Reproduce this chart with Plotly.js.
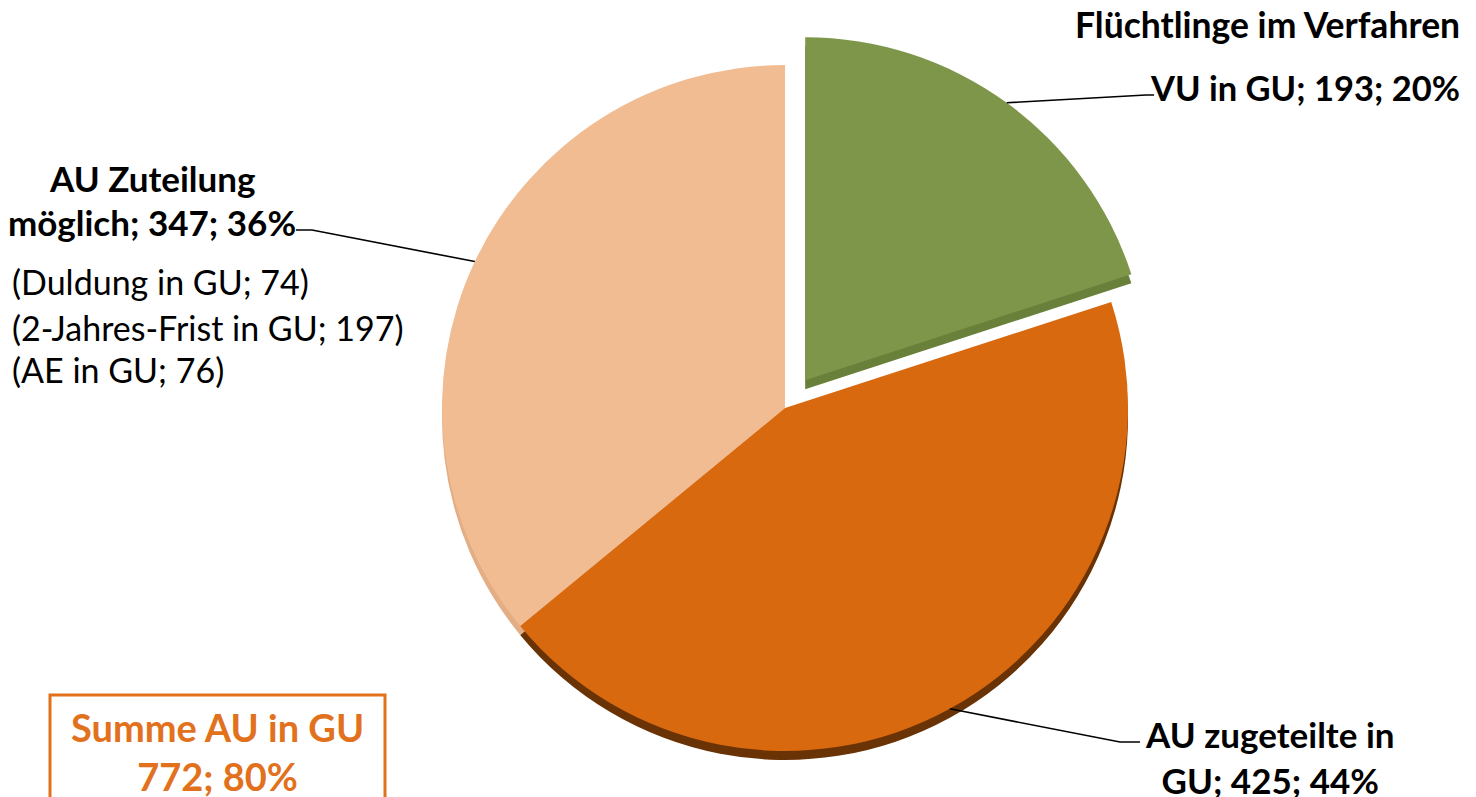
<!DOCTYPE html>
<html><head><meta charset="utf-8">
<script src="https://cdn.plot.ly/plotly-3.0.1.min.js"></script>
<style>html,body{margin:0;padding:0;background:#fff}#chart{width:1476px;height:797px}</style>
</head><body><div id="chart"></div>
<script>
// ---- data ----
const labels = ["Flüchtlinge im Verfahren VU in GU", "AU zugeteilte in GU", "AU Zuteilung möglich"];
const values = [193, 425, 347];
const subLabels = ["Duldung in GU", "2-Jahres-Frist in GU", "AE in GU"];
const subValues = [74, 197, 76];
const sumLabel = "Summe AU in GU";
const colors = ["#7E9649", "#D9690F", "#F1BC92"];
const shadowColors = ["#69803A", "#6A3306", "#E3AE86"];
const pulls = [0.1, 0, 0];

// ---- geometry ----
const W = 1476, H = 797;
const cx = 785, cy = 408, r = 343, depth = 9;
const maxPull = Math.max(...pulls);
const half = r * (1 + maxPull);
const px = x => x / W, py = y => 1 - y / H;
const total = values.reduce((a, b) => a + b, 0);
const pct = v => Math.round(v / total * 100) + "%";
const sumAU = values[1] + values[2];

let cum = 0;
const mids = values.map(v => { const m = (cum + v / 2) / total * 360; cum += v; return m; });
function edgePoint(i) {
  const a = mids[i] * Math.PI / 180;
  const R = r * (1 + pulls[i]);
  return [cx + R * Math.sin(a), cy - R * Math.cos(a)];
}

const FONT = "Lato, 'Open Sans', sans-serif";
const base = {type: 'pie', values: values, labels: labels, sort: false, direction: 'clockwise',
  rotation: 0, pull: pulls, textinfo: 'none', showlegend: false, hoverinfo: 'label+value+percent'};

const shadowTrace = Object.assign({}, base, {
  marker: {colors: shadowColors, line: {width: 0}},
  domain: {x: [px(cx - half), px(cx + half)], y: [py(cy + depth + half), py(cy + depth - half)]},
  hoverinfo: 'skip'
});
const mainTrace = Object.assign({}, base, {
  marker: {colors: colors, line: {width: 0}},
  domain: {x: [px(cx - half), px(cx + half)], y: [py(cy + half), py(cy - half)]}
});

function ann(text, x, y, xanchor, size, color) {
  return {text: text, x: px(x), y: py(y), xref: 'paper', yref: 'paper',
    xanchor: xanchor, yanchor: 'middle', showarrow: false,
    font: {family: FONT, size: size, color: color || '#000'}};
}

const g = edgePoint(0), o = edgePoint(1), p = edgePoint(2);
const leader = (pts) => ({type: 'path', xref: 'paper', yref: 'paper',
  path: pts.map((q, k) => (k ? 'L' : 'M') + px(q[0]) + ',' + py(q[1])).join(' '),
  line: {color: '#000', width: 1.6}});

const ORANGE = '#E2711D';
const annotations = [
  ann('<b>Flüchtlinge im Verfahren</b>', 1462, 25, 'right', 35.5),
  ann('<b>VU in GU; ' + values[0] + '; ' + pct(values[0]) + '</b>', 1462, 87, 'right', 34.5),
  ann('<b>AU Zuteilung</b>', 152, 178, 'center', 35),
  ann('<b>möglich; ' + values[2] + '; ' + pct(values[2]) + '</b>', 152, 222, 'center', 35),
  ann('(' + subLabels[0] + '; ' + subValues[0] + ')', 10, 281, 'left', 34),
  ann('(' + subLabels[1] + '; ' + subValues[1] + ')', 10, 327, 'left', 34),
  ann('(' + subLabels[2] + '; ' + subValues[2] + ')', 10, 369, 'left', 34),
  ann('<b>AU zugeteilte in<br>GU; ' + values[1] + '; ' + pct(values[1]) + '</b>', 1270, 757, 'center', 35),
  ann('<b>' + sumLabel + '<br>' + sumAU + '; ' + Math.round(sumAU / total * 100) + '%</b>', 217, 751, 'center', 38, ORANGE)
];

const shapes = [
  {type: 'rect', xref: 'paper', yref: 'paper', x0: px(50), x1: px(385), y0: py(805), y1: py(695),
   line: {color: ORANGE, width: 3}, fillcolor: 'rgba(0,0,0,0)'},
  leader([g, [1146, 95], [1154, 95]]),
  leader([[296, 230], [312, 230], p]),
  leader([o, [1120, 742], [1140, 742]])
];

Plotly.newPlot('chart', [shadowTrace, mainTrace], {
  width: W, height: H, margin: {l: 0, r: 0, t: 0, b: 0},
  paper_bgcolor: '#fff', plot_bgcolor: '#fff',
  annotations: annotations, shapes: shapes
}, {displayModeBar: false, staticPlot: true});
</script></body></html>
